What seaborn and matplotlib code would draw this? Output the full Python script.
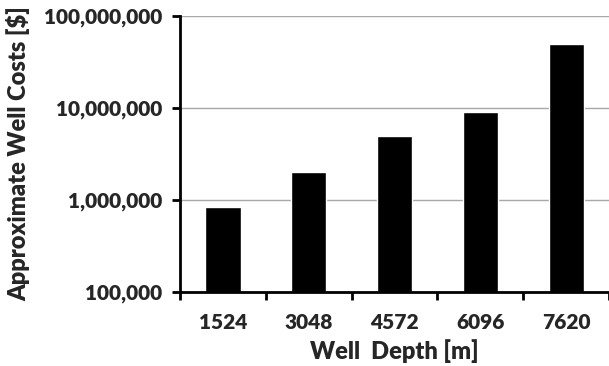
import numpy as np
import pandas as pd
import seaborn as sns
import matplotlib.pyplot as plt
from matplotlib.ticker import FixedLocator, NullLocator

# Data
depths = ["1524", "3048", "4572", "6096", "7620"]
costs = [840000, 2000000, 5000000, 9000000, 50000000]
ytick_values = [1e5, 1e6, 1e7, 1e8]
ytick_labels = ["100,000", "1,000,000", "10,000,000", "100,000,000"]

df = pd.DataFrame({"depth": depths, "cost": costs})

sns.set_style("white")
plt.rcParams["font.family"] = ["Lato", "DejaVu Sans"]
plt.rcParams["font.weight"] = "heavy"

fig = plt.figure(figsize=(6.09, 3.66), dpi=100)
ax = fig.add_axes([0.2956, 0.2022, 0.7044, 0.7541])
ax.set_yscale("log")

sns.barplot(data=df, x="depth", y="cost", color="black", width=0.41,
            saturation=1, ax=ax)

ax.set_ylim(1e5, 1e8)
ax.set_xlim(-0.5, len(depths) - 0.5)

ax.yaxis.set_major_locator(FixedLocator(ytick_values))
ax.yaxis.set_minor_locator(NullLocator())
ax.set_yticklabels(ytick_labels)
ax.yaxis.grid(True, color="#a8a8a8", linewidth=1)
ax.set_axisbelow(True)

# tick marks sit between categories, labels at category centres
ax.xaxis.set_minor_locator(FixedLocator(np.arange(-0.5, len(depths), 1.0)))
ax.tick_params(axis="x", which="major", bottom=True, length=0, pad=15,
               labelsize=15)
ax.tick_params(axis="x", which="minor", bottom=True, length=6, width=2,
               direction="out", color="black")
ax.tick_params(axis="y", which="major", left=True, length=6, width=2,
               direction="out", color="black", labelsize=15, pad=7)

for side in ["top", "right"]:
    ax.spines[side].set_visible(False)
for side in ["left", "bottom"]:
    ax.spines[side].set_color("black")
    ax.spines[side].set_linewidth(2)

ax.set_xlabel("Well  Depth [m]", fontsize=17, fontweight="heavy", labelpad=5)
ax.set_ylabel("Approximate Well Costs [$]", fontsize=17, fontweight="heavy",
              labelpad=10)

fig.savefig("out.png", dpi=100)
